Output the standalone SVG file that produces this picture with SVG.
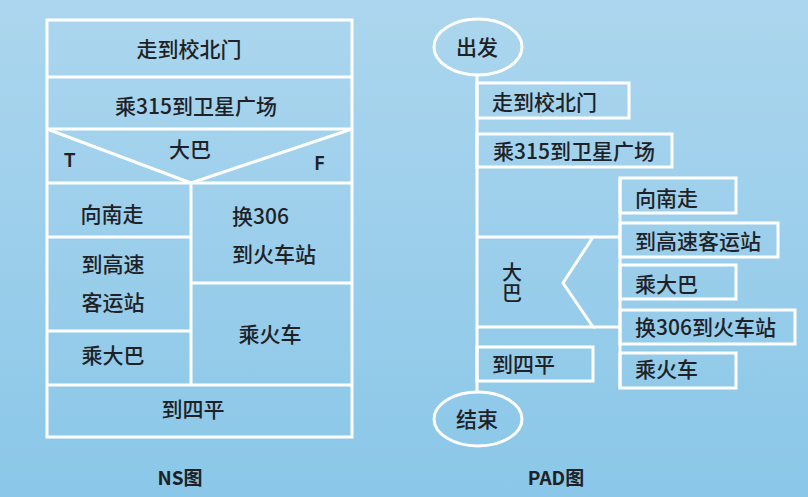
<svg xmlns="http://www.w3.org/2000/svg" width="808" height="497" viewBox="0 0 808 497">
<defs>
<linearGradient id="bg" x1="0" y1="0" x2="0" y2="1">
<stop offset="0" stop-color="#acd6ee"/>
<stop offset="1" stop-color="#8ac7e8"/>
</linearGradient>
<style>
.ln{stroke:#ffffff;stroke-width:3;fill:none}
.bx{stroke:#ffffff;stroke-width:3;fill:none}
.t{font-family:"Noto Sans CJK SC","Noto Sans",sans-serif;font-size:21px;fill:#1e2226;font-weight:500}
.c{text-anchor:middle}
.tf{font-family:"Noto Sans","Noto Sans CJK SC",sans-serif;font-size:20px;fill:#1e2226;font-weight:600}
.lbl{font-family:"Noto Sans CJK SC","Noto Sans",sans-serif;font-size:19px;fill:#1e2226;text-anchor:middle;font-weight:600}
</style>
</defs>
<rect width="808" height="497" fill="url(#bg)"/>
<g id="ns">
<g id="ns-frame">
<rect class="bx" x="47" y="20" width="305" height="417"/>
<line class="ln" x1="47" y1="77" x2="352" y2="77"/>
<line class="ln" x1="47" y1="129" x2="352" y2="129"/>
<line class="ln" x1="47" y1="183" x2="352" y2="183"/>
<line class="ln" x1="47" y1="129" x2="191" y2="183"/>
<line class="ln" x1="352" y1="129" x2="191" y2="183"/>
<line class="ln" x1="191" y1="183" x2="191" y2="385"/>
<line class="ln" x1="47" y1="237" x2="191" y2="237"/>
<line class="ln" x1="47" y1="331" x2="191" y2="331"/>
<line class="ln" x1="191" y1="283" x2="352" y2="283"/>
<line class="ln" x1="47" y1="385" x2="352" y2="385"/>
</g>
<g id="ns-1"><text class="t c" x="189" y="57">走到校北门</text></g>
<g id="ns-2"><text class="t c" x="196" y="114">乘315到卫星广场</text></g>
<g id="ns-cond"><text class="t c" x="190" y="157">大巴</text>
<text class="tf" x="64" y="167">T</text>
<text class="tf" x="314" y="170">F</text></g>
<g id="ns-3"><text class="t c" x="112" y="222">向南走</text></g>
<g id="ns-4"><text class="t c" x="113" y="272">到高速</text><text class="t c" x="113" y="310">客运站</text></g>
<g id="ns-5"><text class="t c" x="113" y="363">乘大巴</text></g>
<g id="ns-6"><text class="t" x="232" y="224">换306</text><text class="t" x="232" y="262">到火车站</text></g>
<g id="ns-7"><text class="t c" x="270" y="342">乘火车</text></g>
<g id="ns-8"><text class="t c" x="193" y="417">到四平</text></g>
<text class="lbl" x="180" y="485">NS图</text>
</g>
<g id="connectors">
<line class="ln" x1="477" y1="75" x2="477" y2="392"/>
<polyline class="ln" points="477,237 593,237 563,283 593,327 477,327"/>
<line class="ln" x1="593" y1="237" x2="620" y2="237"/>
<line class="ln" x1="593" y1="327" x2="620" y2="327"/>
<line class="ln" x1="620" y1="178" x2="620" y2="388"/>
</g>
<g id="pad-start"><ellipse class="bx" cx="478" cy="47" rx="44" ry="28"/><text class="t c" x="477" y="55">出发</text></g>
<g id="pad-1"><rect class="bx" x="477" y="83" width="152" height="35"/><text class="t" x="492" y="110">走到校北门</text></g>
<g id="pad-2"><rect class="bx" x="477" y="134" width="195" height="33"/><text class="t" x="493" y="159">乘315到卫星广场</text></g>
<g id="pad-cond"><text class="t" x="512" y="262" style="font-size:20px;writing-mode:vertical-rl;letter-spacing:1px">大巴</text></g>
<g id="pad-3"><rect class="bx" x="620" y="178" width="116" height="35"/><text class="t" x="635" y="206">向南走</text></g>
<g id="pad-4"><rect class="bx" x="620" y="223" width="158" height="34"/><text class="t" x="635" y="249">到高速客运站</text></g>
<g id="pad-5"><rect class="bx" x="620" y="265" width="116" height="34"/><text class="t" x="635" y="292">乘大巴</text></g>
<g id="pad-6"><rect class="bx" x="620" y="310" width="175" height="34"/><text class="t" x="635" y="335">换306到火车站</text></g>
<g id="pad-7"><rect class="bx" x="620" y="353" width="116" height="35"/><text class="t" x="635" y="377">乘火车</text></g>
<g id="pad-8"><rect class="bx" x="477" y="347" width="116" height="34"/><text class="t" x="492" y="372">到四平</text></g>
<g id="pad-end"><ellipse class="bx" cx="478" cy="419" rx="44" ry="27"/><text class="t c" x="477" y="427">结束</text></g>
<text class="lbl" x="556" y="485">PAD图</text>
</svg>
